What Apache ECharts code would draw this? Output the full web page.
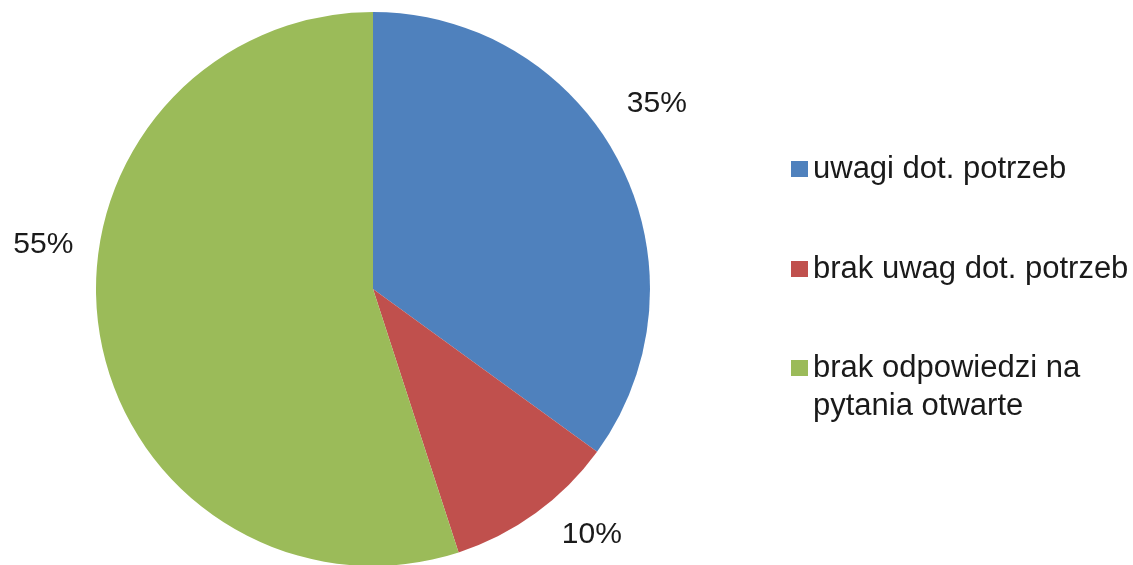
<!DOCTYPE html>
<html>
<head>
<meta charset="utf-8">
<script src="https://cdn.jsdelivr.net/npm/echarts@6/dist/echarts.min.js"></script>
<style>
  html, body { margin: 0; padding: 0; background: #ffffff; }
  #chart { width: 1133px; height: 565px; }
</style>
</head>
<body>
<div id="chart"></div>
<script>
// Response categories and their shares (percent)
const categories = ['uwagi dot. potrzeb', 'brak uwag dot. potrzeb', 'brak odpowiedzi na pytania otwarte'];
const shares = [35, 10, 55];
// Legend wording; the leading empty line keeps the swatch level with the first text line
const legendLabels = ['uwagi dot. potrzeb', 'brak uwag dot. potrzeb', '\nbrak odpowiedzi na\npytania otwarte'];
const sliceColors = ['#4F81BD', '#C0504D', '#9BBB59'];

const FONT = '"Liberation Sans", Arial, sans-serif';
const TEXT_COLOR = '#1a1a1a';

// Small per-slice shifts for the percentage labels
const labelShift = [[7, -60], [26, 22], [-26, -88]];

const chart = echarts.init(document.getElementById('chart'), null, { renderer: 'canvas' });

function legendFor(i, top) {
  return {
    orient: 'vertical',
    left: 791,
    top: top,
    padding: 0,
    itemWidth: 17,
    itemHeight: 16,
    selectedMode: false,
    icon: 'rect',
    data: [categories[i]],
    formatter: () => legendLabels[i],
    textStyle: {
      fontFamily: FONT,
      fontSize: 31,
      lineHeight: 38,
      color: TEXT_COLOR
    }
  };
}

chart.setOption({
  animation: false,
  color: sliceColors,
  legend: [
    legendFor(0, 150),
    legendFor(1, 250),
    legendFor(2, 311)
  ],
  series: [{
    type: 'pie',
    center: [373, 289],
    radius: 277,
    startAngle: 90,
    clockwise: true,
    avoidLabelOverlap: false,
    silent: true,
    data: categories.map((name, i) => ({ name: name, value: shares[i] })),
    label: {
      show: true,
      position: 'outside',
      formatter: '{c}%',
      fontFamily: FONT,
      fontSize: 30,
      color: TEXT_COLOR,
      distanceToLabelLine: 0
    },
    labelLine: { show: false, length: 0, length2: 0 },
    labelLayout: (p) => ({ dx: labelShift[p.dataIndex][0], dy: labelShift[p.dataIndex][1] }),
    itemStyle: { borderWidth: 0 }
  }]
});
</script>
</body>
</html>
